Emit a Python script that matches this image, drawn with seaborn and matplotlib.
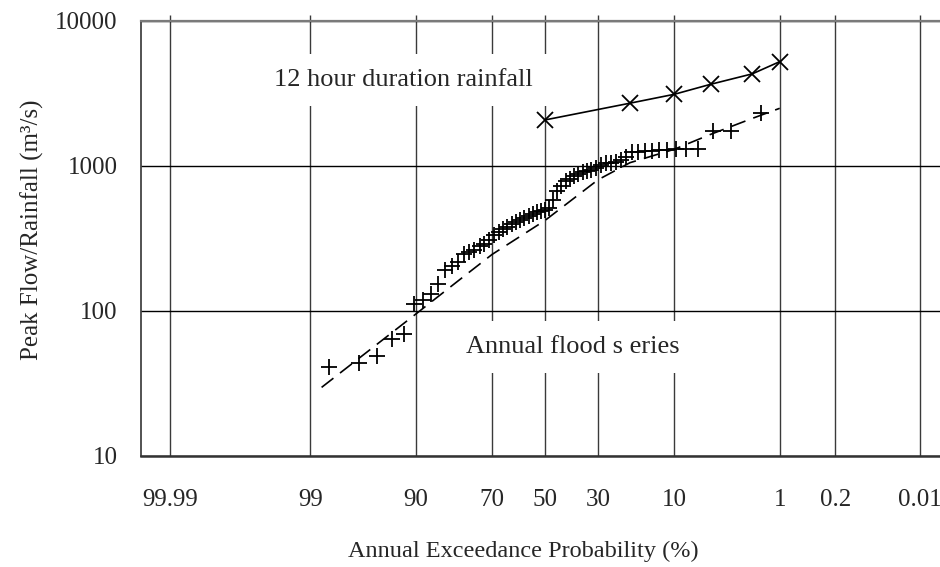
import numpy as np
import matplotlib
matplotlib.use("Agg")
import matplotlib.pyplot as plt
import seaborn as sns
from statistics import NormalDist

# ---------------- data ----------------
aep_ticks = [99.99, 99, 90, 70, 50, 30, 10, 1, 0.2, 0.01]
aep_tick_labels = ["99.99", "99", "90", "70", "50", "30", "10", "1", "0.2", "0.01"]
y_ticks = [10, 100, 1000, 10000]
y_tick_labels = ["10", "100", "1000", "10000"]

# 12 hour duration rainfall
rain_aep = [50, 20, 10, 5, 2, 1]
rain_q = [2070, 2700, 3110, 3650, 4300, 5220]

# Annual flood series (plotting positions, %)
flood_aep = [1.61, 3.23, 4.84, 6.45, 8.06, 9.68, 11.29, 12.90, 14.52, 16.13,
             17.74, 19.35, 20.97, 22.58, 24.19, 25.81, 27.42, 29.03, 30.65, 32.26,
             33.87, 35.48, 37.10, 38.71, 40.32, 41.94, 43.55, 45.16, 46.77, 48.39,
             50.00, 51.61, 53.23, 54.84, 56.45, 58.06, 59.68, 61.29, 62.90, 64.52,
             66.13, 67.74, 69.35, 70.97, 72.58, 74.19, 75.81, 77.42, 79.03, 80.65,
             82.26, 83.87, 85.48, 87.10, 88.71, 90.32, 91.94, 93.55, 95.16, 96.77,
             98.39]
flood_q = [2310, 1740, 1740, 1310, 1310, 1300, 1290, 1285, 1265, 1265,
           1245, 1245, 1150, 1100, 1060, 1045, 1045, 1015, 965, 935,
           920, 905, 880, 850, 810, 785, 725, 670, 580, 510,
           495, 488, 481, 466, 451, 437, 423, 410, 397, 378,
           367, 350, 333, 308, 289, 280, 263, 255, 247, 217,
           204, 191, 153, 131, 119, 111, 69, 64, 49, 43.5,
           41]

# fitted distribution (dashed)
fit_aep = [98.66, 90, 80, 70, 50, 30, 20, 10, 5, 2, 1]
fit_q = [29.7, 95, 165, 245, 420, 800, 1050, 1300, 1650, 2120, 2490]

# ---------------- probability scale ----------------
_nd = NormalDist()


def _ppf(v):
    try:
        return _nd.inv_cdf(v / 100.0)
    except Exception:
        return np.nan


def _cdf(z):
    try:
        return 100.0 * _nd.cdf(z)
    except Exception:
        return np.nan


_vppf = np.vectorize(_ppf, otypes=[float])
_vcdf = np.vectorize(_cdf, otypes=[float])


def fwd(a):
    a = np.clip(np.asarray(a, dtype=float), 1e-7, 100 - 1e-7)
    return _vppf(a)


def inv(z):
    return _vcdf(np.asarray(z, dtype=float))


# ---------------- style ----------------
sns.set_style("white")
plt.rcParams["font.family"] = ["Liberation Serif", "DejaVu Serif"]
plt.rcParams["font.size"] = 18

fig = plt.figure(figsize=(9.4, 5.67), dpi=100)
ax = fig.add_axes([0.15, 0.1958, 0.85, 0.7677])
ax.set_xscale("function", functions=(fwd, inv))
ax.set_yscale("log")

sns.lineplot(x=rain_aep, y=rain_q, ax=ax, color="black", lw=1.2,
             marker="x", markersize=11, markeredgewidth=1.3,
             markeredgecolor="black", sort=False, zorder=5)
sns.lineplot(x=fit_aep, y=fit_q, ax=ax, color="black", lw=1.2,
             linestyle=(0, (9, 5)), sort=False, zorder=4)
sns.scatterplot(x=flood_aep, y=flood_q, ax=ax, marker="+", s=120,
                color="black", linewidth=1.3, zorder=5)

ax.set_xlim(99.99689, 0.00452)
ax.set_ylim(10, 10000)

ax.set_xticks(aep_ticks)
ax.set_xticklabels(aep_tick_labels)
ax.xaxis.set_minor_locator(matplotlib.ticker.NullLocator())
ax.set_yticks(y_ticks)
ax.set_yticklabels(y_tick_labels)
ax.yaxis.set_minor_locator(matplotlib.ticker.NullLocator())

ax.set_axisbelow(True)
ax.xaxis.grid(True, color="#3a3a3a", lw=1.0)
ax.yaxis.grid(True, color="black", lw=1.0)

ax.tick_params(axis="x", which="major", bottom=False, top=True,
               direction="out", length=4.5, width=1.0, color="#3a3a3a",
               labelbottom=True, labeltop=False, pad=19, labelsize=18)
ax.tick_params(axis="y", which="major", left=False, length=0, pad=17,
               labelsize=18)

ax.spines["right"].set_visible(False)
ax.spines["top"].set_color("#7a7a7a")
ax.spines["top"].set_linewidth(1.6)
ax.spines["bottom"].set_color("#333333")
ax.spines["bottom"].set_linewidth(1.8)
ax.spines["left"].set_color("#444444")
ax.spines["left"].set_linewidth(1.3)

ax.text(0.329, 0.864, "12 hour duration rainfall", transform=ax.transAxes,
        ha="center", va="center", fontsize=19, zorder=3,
        bbox=dict(facecolor="white", edgecolor="none", pad=11))
ax.text(0.541, 0.250, "Annual flood s eries", transform=ax.transAxes,
        ha="center", va="center", fontsize=19, zorder=3,
        bbox=dict(facecolor="white", edgecolor="none", pad=11))

ax.set_xlabel("Annual Exceedance Probability (%)", fontsize=17.5)
ax.set_ylabel("Peak Flow/Rainfall (m³/s)", fontsize=18)
ax.xaxis.set_label_coords(0.478, -0.195)
ax.yaxis.set_label_coords(-0.122, 0.52)

fig.savefig("out.png", dpi=100)
